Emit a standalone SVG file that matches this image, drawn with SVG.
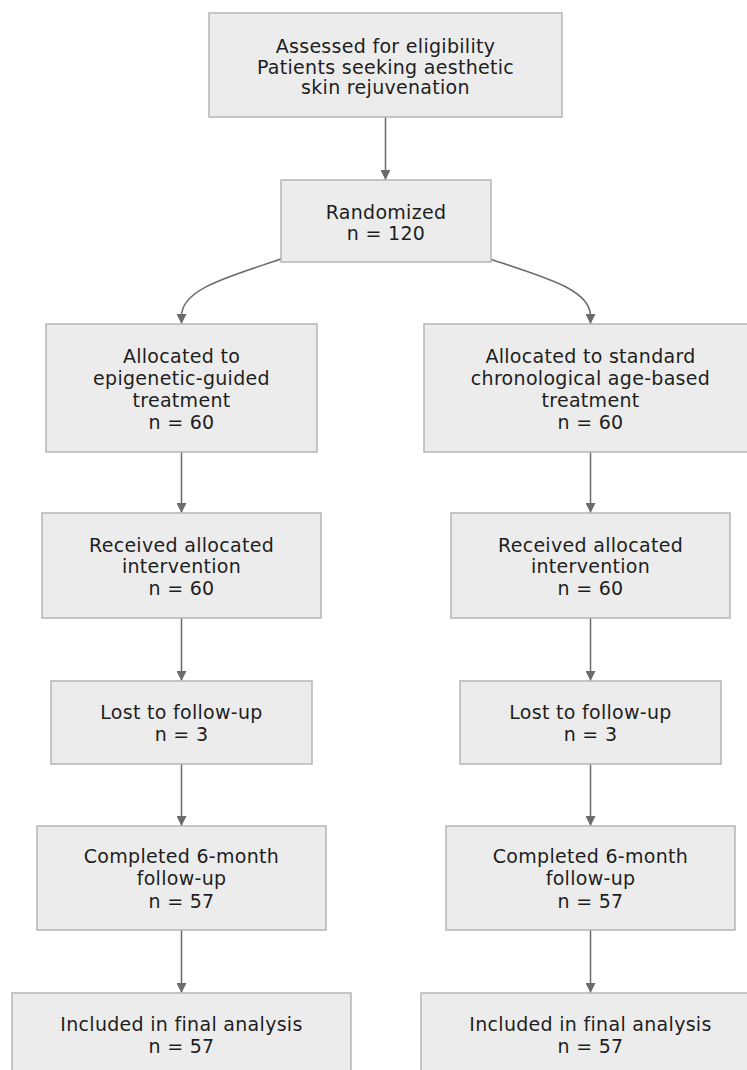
<svg xmlns="http://www.w3.org/2000/svg" width="747" height="1070" viewBox="0 0 747 1070">
<style>
.box{fill:#ececec;stroke:#b5b5b5;stroke-width:1.5}
.t{font-family:"DejaVu Sans",Verdana,sans-serif;font-size:19px;letter-spacing:0.3px;fill:#1e1e1e;text-anchor:middle}
.edge{fill:none;stroke:#6b6b6b;stroke-width:1.5}
</style>
<defs>
<marker id="ah" viewBox="0 0 10 10" refX="10" refY="5" markerWidth="10" markerHeight="10" markerUnits="userSpaceOnUse" orient="auto">
<path d="M0,0 L10,5 L0,10 z" fill="#6b6b6b"/>
</marker>
</defs>
<rect width="747" height="1070" fill="#fff"/>
<g id="connectors">
<line class="edge" x1="385.5" y1="117" x2="385.5" y2="180" marker-end="url(#ah)"/>
<path class="edge" d="M281,259 C228,277 181.5,289 181.5,316 L181.5,324" marker-end="url(#ah)"/>
<path class="edge" d="M490,259 C543,277 590.5,289 590.5,316 L590.5,324" marker-end="url(#ah)"/>
<line class="edge" x1="181.5" y1="452" x2="181.5" y2="513" marker-end="url(#ah)"/>
<line class="edge" x1="590.5" y1="452" x2="590.5" y2="513" marker-end="url(#ah)"/>
<line class="edge" x1="181.5" y1="618" x2="181.5" y2="681" marker-end="url(#ah)"/>
<line class="edge" x1="590.5" y1="618" x2="590.5" y2="681" marker-end="url(#ah)"/>
<line class="edge" x1="181.5" y1="764" x2="181.5" y2="826" marker-end="url(#ah)"/>
<line class="edge" x1="590.5" y1="764" x2="590.5" y2="826" marker-end="url(#ah)"/>
<line class="edge" x1="181.5" y1="930" x2="181.5" y2="993" marker-end="url(#ah)"/>
<line class="edge" x1="590.5" y1="930" x2="590.5" y2="993" marker-end="url(#ah)"/>
</g>
<g id="assessed">
<rect class="box" x="209" y="13" width="353" height="104"/>
<text class="t" x="385.5" y="53">Assessed for eligibility</text>
<text class="t" x="385.5" y="74">Patients seeking aesthetic</text>
<text class="t" x="385.5" y="94">skin rejuvenation</text>
</g>
<g id="randomized">
<rect class="box" x="281" y="180" width="210" height="82"/>
<text class="t" x="386" y="219">Randomized</text>
<text class="t" x="386" y="240">n = 120</text>
</g>
<g id="alloc_epi">
<rect class="box" x="46" y="324" width="271" height="128"/>
<text class="t" x="181.5" y="363">Allocated to</text>
<text class="t" x="181.5" y="385">epigenetic-guided</text>
<text class="t" x="181.5" y="407">treatment</text>
<text class="t" x="181.5" y="429">n = 60</text>
</g>
<g id="alloc_std">
<rect class="box" x="424" y="324" width="333" height="128"/>
<text class="t" x="590.5" y="363">Allocated to standard</text>
<text class="t" x="590.5" y="385">chronological age-based</text>
<text class="t" x="590.5" y="407">treatment</text>
<text class="t" x="590.5" y="429">n = 60</text>
</g>
<g id="recv_epi">
<rect class="box" x="42" y="513" width="279" height="105"/>
<text class="t" x="181.5" y="552">Received allocated</text>
<text class="t" x="181.5" y="573">intervention</text>
<text class="t" x="181.5" y="595">n = 60</text>
</g>
<g id="recv_std">
<rect class="box" x="451" y="513" width="279" height="105"/>
<text class="t" x="590.5" y="552">Received allocated</text>
<text class="t" x="590.5" y="573">intervention</text>
<text class="t" x="590.5" y="595">n = 60</text>
</g>
<g id="lost_epi">
<rect class="box" x="51" y="681" width="261" height="83"/>
<text class="t" x="181.5" y="719">Lost to follow-up</text>
<text class="t" x="181.5" y="741">n = 3</text>
</g>
<g id="lost_std">
<rect class="box" x="460" y="681" width="261" height="83"/>
<text class="t" x="590.5" y="719">Lost to follow-up</text>
<text class="t" x="590.5" y="741">n = 3</text>
</g>
<g id="comp_epi">
<rect class="box" x="37" y="826" width="289" height="104"/>
<text class="t" x="181.5" y="863">Completed 6-month</text>
<text class="t" x="181.5" y="885">follow-up</text>
<text class="t" x="181.5" y="908">n = 57</text>
</g>
<g id="comp_std">
<rect class="box" x="446" y="826" width="289" height="104"/>
<text class="t" x="590.5" y="863">Completed 6-month</text>
<text class="t" x="590.5" y="885">follow-up</text>
<text class="t" x="590.5" y="908">n = 57</text>
</g>
<g id="incl_epi">
<rect class="box" x="12" y="993" width="339" height="100"/>
<text class="t" x="181.5" y="1031">Included in final analysis</text>
<text class="t" x="181.5" y="1053">n = 57</text>
</g>
<g id="incl_std">
<rect class="box" x="421" y="993" width="339" height="100"/>
<text class="t" x="590.5" y="1031">Included in final analysis</text>
<text class="t" x="590.5" y="1053">n = 57</text>
</g>
</svg>
